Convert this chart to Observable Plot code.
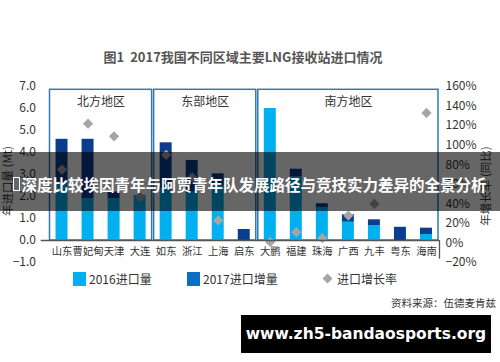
<!DOCTYPE html>
<html>
<head>
<meta charset="utf-8">
<script src="https://cdn.jsdelivr.net/npm/d3@7"></script>
<script src="https://cdn.jsdelivr.net/npm/@observablehq/plot@0.6"></script>
<style>
  html, body { margin: 0; padding: 0; background: #fff; }
  #wrap { position: relative; width: 500px; height: 362px; overflow: hidden; font-family: "Noto Sans CJK SC", "Noto Sans", sans-serif; color: #333; }
  #chart { position: absolute; left: 0; top: 0; }
  .abs { position: absolute; white-space: nowrap; }
  #title { left: 0; width: 486px; top: 47px; text-align: center; font-size: 13px; font-weight: bold; color: #555; }
  .ylab { font-size: 11.5px; color: #333; }
  .legend { top: 272px; font-size: 12px; line-height: 14px; color: #333; }
  .sw { display: inline-block; width: 13px; height: 14px; vertical-align: top; margin-right: 3px; }
  .dia { display: inline-block; width: 7px; height: 7px; background: #a5a5a5; transform: rotate(45deg); vertical-align: top; margin: 3px 6px 0 3px; }
  #source { right: 4px; top: 295px; font-size: 10.5px; color: #333; }
  #band { left: 0; top: 152px; width: 500px; height: 59px; background: rgba(0,0,0,0.6); color: #fff; font-weight: bold; font-size: 15.5px; display: flex; align-items: center; justify-content: center; padding-top: 5px; box-sizing: border-box; }
  .tofu { display: inline-block; width: 5px; height: 12px; border: 1.5px solid #fff; margin-right: 1px; vertical-align: -1px; }
  #wm { left: 241px; top: 315px; width: 250px; height: 38px; background: #000; color: #fff; font-family: "DejaVu Sans", sans-serif; font-weight: bold; font-size: 15.5px; display: flex; align-items: center; justify-content: center; }
</style>
</head>
<body>
<div id="wrap">
  <div id="chart"></div>
  <div id="title" class="abs">图1&nbsp;&nbsp;2017我国不同区域主要LNG接收站进口情况</div>
  <div class="abs ylab" style="left:-33px; top:173px; transform: rotate(-90deg); width:80px; text-align:center;">年进口量 (Mt)</div>
  <div class="abs ylab" style="left:445px; top:178px; transform: rotate(-90deg); width:80px; text-align:center;">年增长率 (同比)</div>
  <div class="abs legend" style="left:73px;"><span class="sw" style="background:#00b0f0"></span>2016进口量</div>
  <div class="abs legend" style="left:187px;"><span class="sw" style="background:#0a6fc0"></span>2017进口增量</div>
  <div class="abs legend" style="left:321px;"><span class="dia"></span>进口增长率</div>
  <div id="source" class="abs">资料来源：伍德麦肯兹</div>
  <div id="band" class="abs"><span class="tofu"></span>深度比较埃因青年与阿贾青年队发展路径与竞技实力差异的全景分析</div>
  <div id="wm" class="abs">www.zh5-bandaosports.org</div>
</div>
<script>
// ---- data ----
const terminals = ["山东", "曹妃甸", "天津", "大连", "如东", "浙江", "上海", "启东", "大鹏", "福建", "珠海", "广西", "九丰", "粤东", "海南"];
const imports2016 = [2.6, 1.9, 1.9, 2.05, 2.35, 2.2, 2.5, 0, 6.0, 2.9, 1.5, 0.83, 0.68, 0, 0.27];
const increase2017 = [2.0, 2.7, 0.3, 0, 2.09, 1.44, 0.53, 0.5, 0, 0.34, 0.17, 0.34, 0.26, 0.6, 0.29];
const growthRate = [0.75, 1.22, 1.09, 0.47, 0.90, 0.67, 0.23, null, 0.01, 0.11, 0.05, 0.28, 0.40, null, 1.33];
const regionNames = ["北方地区", "东部地区", "南方地区"];
const regionFirst = [0, 4, 8];
const regionLast = [3, 7, 14];
const leftTicks = [-1, 0, 1, 2, 3, 4, 5, 6, 7];
const rightTicks = [-0.2, 0, 0.2, 0.4, 0.6, 0.8, 1.0, 1.2, 1.4, 1.6];

// ---- helpers ----
const leftDomain = [-1, 7];
const rightDomain = [-0.2, 1.6];
const toLeft = g => leftDomain[0] + (g - rightDomain[0]) / (rightDomain[1] - rightDomain[0]) * (leftDomain[1] - leftDomain[0]);

const rows = terminals.map((name, i) => ({
  i, name,
  base: imports2016[i],
  top: imports2016[i] + increase2017[i],
  growth: growthRate[i]
}));
const regions = regionNames.map((name, k) => ({ name, x1: regionFirst[k] - 0.5, x2: regionLast[k] + 0.5, xm: (regionFirst[k] + regionLast[k]) / 2 }));
const half = 0.23;
const fmtL = d3.format(".1f");
const fmtR = d3.format(".0%");

const chart = Plot.plot({
  width: 500,
  height: 300,
  marginTop: 86,
  marginBottom: 38,
  marginLeft: 48.5,
  marginRight: 61,
  style: { fontFamily: "Noto Sans CJK SC, Noto Sans, sans-serif", fontSize: "12px", color: "#333", background: "transparent" },
  x: { type: "linear", domain: [-0.5, 14.5], axis: null },
  y: { domain: leftDomain, axis: null },
  marks: [
    Plot.rect(regions, { x1: "x1", x2: "x2", y1: 0, y2: 6.85, fill: "none", stroke: "#2f79b5", strokeWidth: 1.5, insetLeft: 1, insetRight: 1 }),
    Plot.text(regions, { x: "xm", y: 6.27, text: "name", fontSize: 12, fill: "#333" }),
    Plot.rectY(rows, { x1: d => d.i - half, x2: d => d.i + half, y1: 0, y2: "base", fill: "#00b0f0" }),
    Plot.rectY(rows, { x1: d => d.i - half, x2: d => d.i + half, y1: "base", y2: "top", fill: "#0b3d8f" }),
    Plot.dot(rows.filter(d => d.growth != null), { x: "i", y: d => toLeft(d.growth), symbol: "diamond2", r: 4.6, fill: "#a5a5a5", stroke: "none" }),
    Plot.ruleY([0], { x1: -0.8, x2: 14.5, stroke: "#555", strokeWidth: 1.3 }),
    Plot.ruleX([14.5], { y1: -0.85, y2: 0, stroke: "#555", strokeWidth: 1.3 }),
    Plot.text(rows, { x: "i", y: 0, dy: 11, text: "name", fontSize: 10.3, fill: "#333" }),
    Plot.axisY({ anchor: "left", ticks: leftTicks, tickFormat: fmtL, tickSize: 0, tickPadding: 13, label: null, fontSize: 12 }),
    Plot.axisY({ anchor: "right", ticks: rightTicks.map(toLeft), tickFormat: (d, i) => fmtR(rightTicks[i]), tickSize: 0, tickPadding: 6, label: null, fontSize: 12 })
  ]
});
document.getElementById("chart").appendChild(chart);
</script>
</body>
</html>
